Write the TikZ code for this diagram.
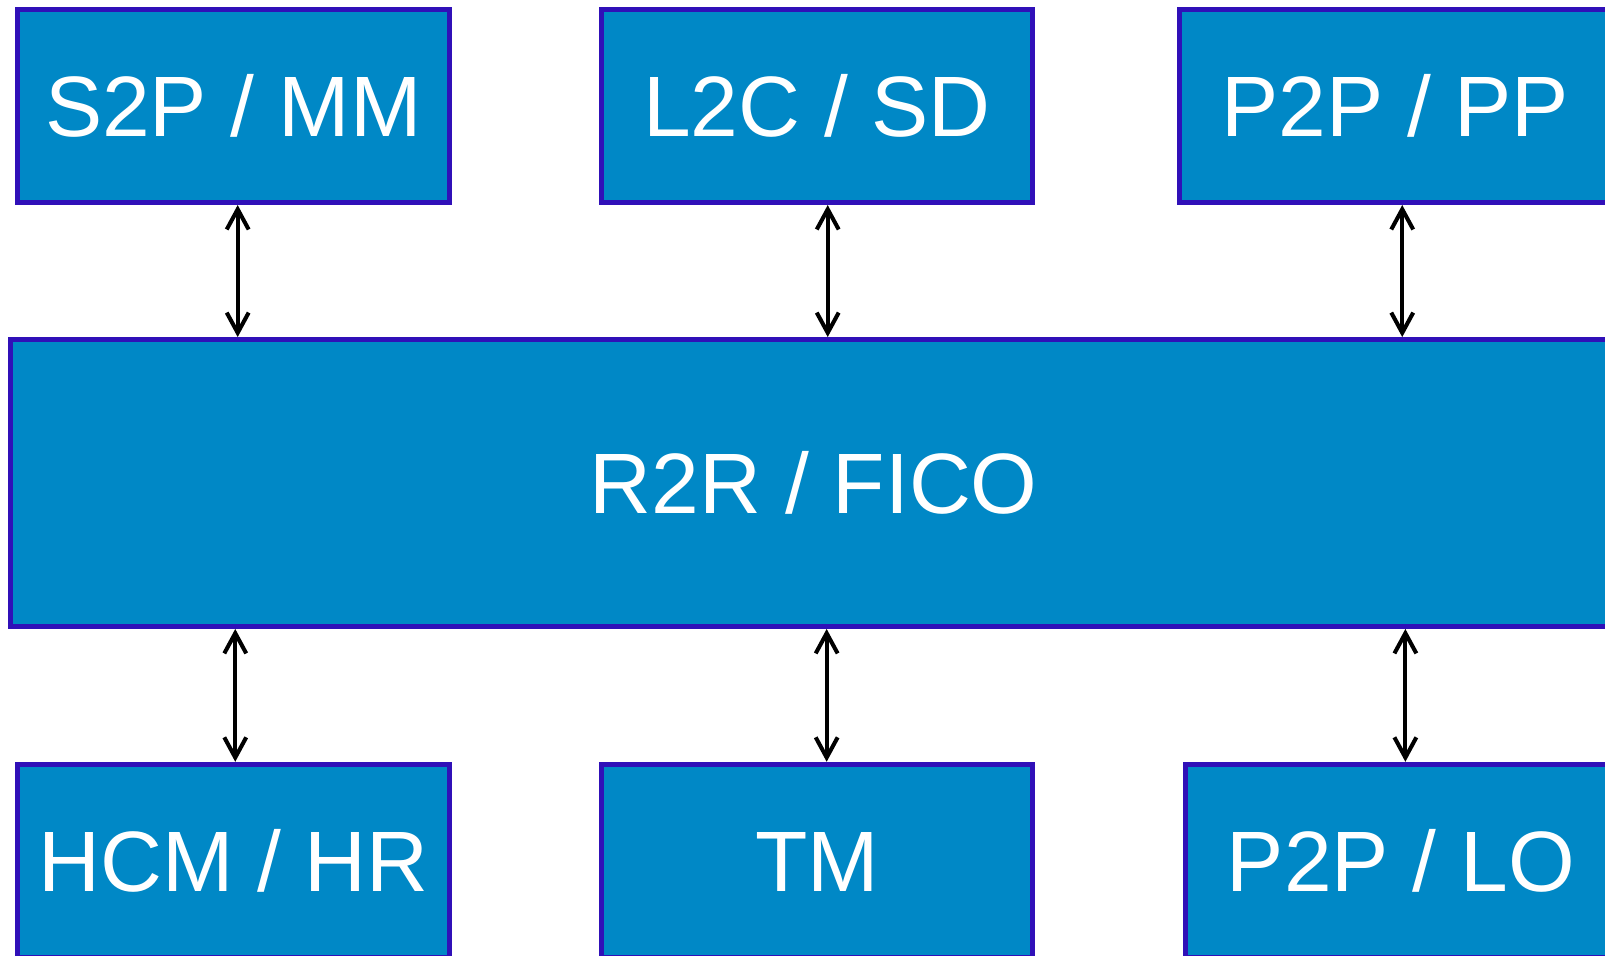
\documentclass[tikz,border=0pt]{standalone}
\usepackage{fontspec}
\setmainfont{Liberation Sans}
\usetikzlibrary{arrows.meta}
\definecolor{boxfill}{HTML}{0088C6}
\definecolor{boxline}{HTML}{3010B8}
\begin{document}
\begin{tikzpicture}[x=0.02cm, y=-0.02cm,
  box/.style={draw=boxline, fill=boxfill, line width=2.85pt, text=white,
    font=\fontsize{48.8pt}{53pt}\selectfont, inner sep=0pt,
    text height=35pt, text depth=0pt,
    minimum width=245.55pt, minimum height=110pt},
  arr/.style={line width=2.3pt, {Straight Barb[length=11.5pt,width=12.5pt,line width=2.3pt]}-{Straight Barb[length=11.5pt,width=12.5pt,line width=2.3pt]}}
]
\useasboundingbox (0,0) rectangle (1605,956);
\clip (0,0) rectangle (1605,956);
% top row
\node[box] (s2p) at (233.3,105.9) {S2P / MM};
\node[box] (l2c) at (817,105.9) {L2C / SD};
\node[box] (p2pp) at (1395.2,105.9) {P2P / PP};
% middle
\node[box, minimum width=913.9pt, minimum height=163.3pt] (r2r) at (813.8,483) {R2R / FICO};
% bottom row
\node[box] (hcm) at (233.5,860.9) {HCM / HR};
\node[box] (tm) at (817,860.9) {TM};
\node[box] (p2lo) at (1400.8,860.9) {P2P / LO};
% connectors
\draw[arr] ([xshift=2.5pt]s2p.south) -- ([xshift=2.5pt]s2p.south |- r2r.north);
\draw[arr] ([xshift=6.1pt]l2c.south) -- ([xshift=6.1pt]l2c.south |- r2r.north);
\draw[arr] ([xshift=4pt]p2pp.south) -- ([xshift=4pt]p2pp.south |- r2r.north);
\draw[arr] ([xshift=1pt]hcm.north |- r2r.south) -- ([xshift=1pt]hcm.north);
\draw[arr] ([xshift=5.5pt]tm.north |- r2r.south) -- ([xshift=5.5pt]tm.north);
\draw[arr] ([xshift=2.6pt]p2lo.north |- r2r.south) -- ([xshift=2.6pt]p2lo.north);
\end{tikzpicture}
\end{document}
